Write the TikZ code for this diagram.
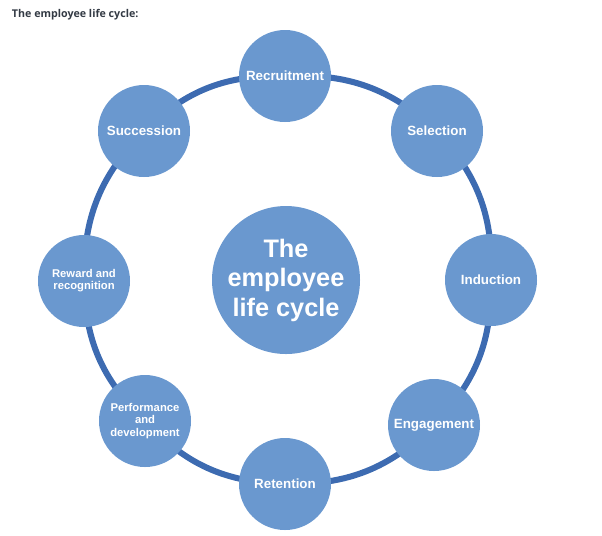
\documentclass[tikz,border=0pt]{standalone}
\usepackage{fontspec}
\usepackage{xcolor}
\usepackage{tikz}
\usetikzlibrary{backgrounds}
\setmainfont{Liberation Sans}
\newfontfamily\titlefont{Open Sans}
\definecolor{bubble}{HTML}{6A98CF}
\definecolor{ring}{HTML}{3D6BB1}
\definecolor{heading}{HTML}{333A44}

\begin{document}
\begin{tikzpicture}[x=0.025cm, y=-0.025cm,
  every node/.style={font=\bfseries\color{white}, align=center},
  stage/.style={circle, fill=bubble, minimum size=92*0.025cm, inner sep=0pt, font=\fontsize{9.5}{11}\selectfont\bfseries\color{white}},
  smallstage/.style={stage, font=\fontsize{8}{8.6}\selectfont\bfseries\color{white}},
  link/.style={draw=ring, line width=4.3pt}]
  \useasboundingbox (0,0) rectangle (602,535);
  % Heading
  \node[anchor=west, font=\titlefont\fontsize{7.6}{9}\selectfont\bfseries\color{heading}] (title) at (7,15) {The employee life cycle:};
  % Hub
  \node[circle, fill=bubble, minimum size=148*0.025cm, inner sep=0pt,
        font=\fontsize{18}{21}\selectfont\bfseries\color{white}] (hub) at (286,280) {The\\employee\\life cycle};
  % Stages
  \node[stage] (recruit) at (285,76) {Recruitment};
  \node[stage] (select) at (437,131) {Selection};
  \node[stage] (induct) at (491,280) {Induction};
  \node[stage] (engage) at (434,425) {Engagement};
  \node[stage] (retain) at (285,484) {Retention};
  \node[smallstage] (perform) at (145,421) {Performance\\and\\development};
  \node[smallstage] (reward) at (84,281) {Reward and\\recognition};
  \node[stage] (success) at (144,131) {Succession};
  % Ring
  \begin{scope}[on background layer]
    \draw[link] (recruit.center) to[bend left=22.5] (select.center);
    \draw[link] (select.center) to[bend left=22.5] (induct.center);
    \draw[link] (induct.center) to[bend left=22.5] (engage.center);
    \draw[link] (engage.center) to[bend left=22.5] (retain.center);
    \draw[link] (retain.center) to[bend left=22.5] (perform.center);
    \draw[link] (perform.center) to[bend left=22.5] (reward.center);
    \draw[link] (reward.center) to[bend left=22.5] (success.center);
    \draw[link] (success.center) to[bend left=22.5] (recruit.center);
  \end{scope}
\end{tikzpicture}
\end{document}
